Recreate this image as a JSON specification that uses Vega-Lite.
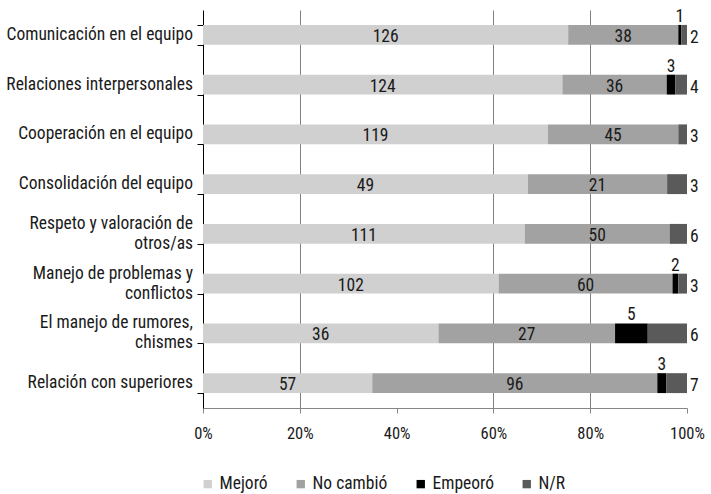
{
  "$schema": "https://vega.github.io/schema/vega-lite/v6.json",
  "width": 484,
  "height": 398,
  "autosize": {"type": "none"},
  "padding": {"left": 203, "top": 10, "right": 24, "bottom": 86},
  "config": {
    "font": "Roboto Condensed, Liberation Sans Narrow, Roboto, sans-serif",
    "view": {"stroke": null},
    "axisX": {
      "labelFontSize": 16.5, "labelPadding": 12, "tickSize": 5, "labelFlush": false,
      "domainColor": "#868686", "tickColor": "#868686", "labelColor": "#1a1a1a",
      "gridColor": "#7f7f7f"
    }
  },
  "data": {
    "values": [
      {"cat": "Comunicación en el equipo", "resp": "Mejoró", "ord": 1, "n": 126},
      {"cat": "Comunicación en el equipo", "resp": "No cambió", "ord": 2, "n": 38},
      {"cat": "Comunicación en el equipo", "resp": "Empeoró", "ord": 3, "n": 1},
      {"cat": "Comunicación en el equipo", "resp": "N/R", "ord": 4, "n": 2},
      {"cat": "Relaciones interpersonales", "resp": "Mejoró", "ord": 1, "n": 124},
      {"cat": "Relaciones interpersonales", "resp": "No cambió", "ord": 2, "n": 36},
      {"cat": "Relaciones interpersonales", "resp": "Empeoró", "ord": 3, "n": 3},
      {"cat": "Relaciones interpersonales", "resp": "N/R", "ord": 4, "n": 4},
      {"cat": "Cooperación en el equipo", "resp": "Mejoró", "ord": 1, "n": 119},
      {"cat": "Cooperación en el equipo", "resp": "No cambió", "ord": 2, "n": 45},
      {"cat": "Cooperación en el equipo", "resp": "Empeoró", "ord": 3, "n": 0},
      {"cat": "Cooperación en el equipo", "resp": "N/R", "ord": 4, "n": 3},
      {"cat": "Consolidación del equipo", "resp": "Mejoró", "ord": 1, "n": 49},
      {"cat": "Consolidación del equipo", "resp": "No cambió", "ord": 2, "n": 21},
      {"cat": "Consolidación del equipo", "resp": "Empeoró", "ord": 3, "n": 0},
      {"cat": "Consolidación del equipo", "resp": "N/R", "ord": 4, "n": 3},
      {"cat": "Respeto y valoración de \notros/as", "resp": "Mejoró", "ord": 1, "n": 111},
      {"cat": "Respeto y valoración de \notros/as", "resp": "No cambió", "ord": 2, "n": 50},
      {"cat": "Respeto y valoración de \notros/as", "resp": "Empeoró", "ord": 3, "n": 0},
      {"cat": "Respeto y valoración de \notros/as", "resp": "N/R", "ord": 4, "n": 6},
      {"cat": "Manejo de problemas y \nconflictos", "resp": "Mejoró", "ord": 1, "n": 102},
      {"cat": "Manejo de problemas y \nconflictos", "resp": "No cambió", "ord": 2, "n": 60},
      {"cat": "Manejo de problemas y \nconflictos", "resp": "Empeoró", "ord": 3, "n": 2},
      {"cat": "Manejo de problemas y \nconflictos", "resp": "N/R", "ord": 4, "n": 3},
      {"cat": "El manejo de rumores, \nchismes", "resp": "Mejoró", "ord": 1, "n": 36},
      {"cat": "El manejo de rumores, \nchismes", "resp": "No cambió", "ord": 2, "n": 27},
      {"cat": "El manejo de rumores, \nchismes", "resp": "Empeoró", "ord": 3, "n": 5},
      {"cat": "El manejo de rumores, \nchismes", "resp": "N/R", "ord": 4, "n": 6},
      {"cat": "Relación con superiores", "resp": "Mejoró", "ord": 1, "n": 57},
      {"cat": "Relación con superiores", "resp": "No cambió", "ord": 2, "n": 96},
      {"cat": "Relación con superiores", "resp": "Empeoró", "ord": 3, "n": 3},
      {"cat": "Relación con superiores", "resp": "N/R", "ord": 4, "n": 7}
    ]
  },
  "encoding": {
    "y": {
      "field": "cat", "type": "nominal", "sort": null,
      "scale": {"paddingInner": 0.6, "paddingOuter": 0.3},
      "axis": {
        "title": null, "tickBand": "extent", "labels": false,
        "tickSize": 6, "domainColor": "#000000", "tickColor": "#000000"
      }
    }
  },
  "layer": [
    {
      "mark": {"type": "bar"},
      "encoding": {
        "x": {
          "field": "n", "type": "quantitative", "stack": "normalize",
          "scale": {"domain": [0, 1], "nice": false},
          "axis": {
            "title": null, "format": "%", "values": [0, 0.2, 0.4, 0.6, 0.8, 1], "grid": true,
            "gridOpacity": {"condition": {"test": "datum.value < 0.1 || datum.value > 0.9 || (datum.value > 0.3 && datum.value < 0.5)", "value": 0}, "value": 1}
          }
        },
        "color": {
          "field": "resp", "type": "nominal",
          "scale": {"domain": ["Mejoró", "No cambió", "Empeoró", "N/R"], "range": ["#d0d0d0", "#a2a2a2", "#000000", "#5a5a5a"]},
          "legend": {
            "title": null, "orient": "none", "legendX": -4, "legendY": 465, "direction": "horizontal",
            "symbolType": "square", "symbolSize": 70, "symbolStrokeWidth": 0, "labelFontSize": 17.5,
            "labelColor": "#1a1a1a", "columnPadding": 24, "labelOffset": 3
          }
        },
        "order": {"field": "ord", "type": "quantitative"}
      }
    },
    {
      "transform": [
        {"filter": "datum.resp == 'Mejoró' && indexof(datum.cat, '\\n') < 0"}
      ],
      "mark": {"type": "text", "fontSize": 17.5, "color": "#1a1a1a", "baseline": "middle", "align": "right", "dx": -10},
      "encoding": {
        "x": {
          "datum": 0, "type": "quantitative",
          "axis": {
            "title": null, "format": "%", "values": [0, 0.2, 0.4, 0.6, 0.8, 1], "grid": true,
            "gridOpacity": {"condition": {"test": "datum.value < 0.1 || datum.value > 0.9 || (datum.value > 0.3 && datum.value < 0.5)", "value": 0}, "value": 1}
          }
        },
        "text": {"field": "cat", "type": "nominal"}
      }
    },
    {
      "transform": [
        {"filter": "datum.resp == 'Mejoró' && indexof(datum.cat, '\\n') >= 0"}
      ],
      "mark": {"type": "text", "fontSize": 17.5, "color": "#1a1a1a", "baseline": "middle", "align": "right", "dx": -10, "dy": -10, "lineBreak": "\n", "lineHeight": 20},
      "encoding": {
        "x": {
          "datum": 0, "type": "quantitative",
          "axis": {
            "title": null, "format": "%", "values": [0, 0.2, 0.4, 0.6, 0.8, 1], "grid": true,
            "gridOpacity": {"condition": {"test": "datum.value < 0.1 || datum.value > 0.9 || (datum.value > 0.3 && datum.value < 0.5)", "value": 0}, "value": 1}
          }
        },
        "text": {"field": "cat", "type": "nominal"}
      }
    },
    {
      "transform": [
        {"stack": "n", "groupby": ["cat"], "sort": [{"field": "ord"}], "offset": "normalize", "as": ["x0", "x1"]},
        {"calculate": "(datum.x0 + datum.x1) / 2", "as": "xm"},
        {"filter": "datum.resp == 'Mejoró' || datum.resp == 'No cambió'"}
      ],
      "mark": {"type": "text", "fontSize": 17.5, "color": "#1a1a1a", "baseline": "middle", "dy": 2},
      "encoding": {
        "x": {
          "field": "xm", "type": "quantitative",
          "axis": {
            "title": null, "format": "%", "values": [0, 0.2, 0.4, 0.6, 0.8, 1], "grid": true,
            "gridOpacity": {"condition": {"test": "datum.value < 0.1 || datum.value > 0.9 || (datum.value > 0.3 && datum.value < 0.5)", "value": 0}, "value": 1}
          }
        },
        "text": {"field": "n", "type": "quantitative"}
      }
    },
    {
      "transform": [
        {"stack": "n", "groupby": ["cat"], "sort": [{"field": "ord"}], "offset": "normalize", "as": ["x0", "x1"]},
        {"calculate": "(datum.x0 + datum.x1) / 2", "as": "xm"},
        {"filter": "datum.resp == 'Empeoró' && datum.n > 0"}
      ],
      "mark": {"type": "text", "fontSize": 17.5, "color": "#1a1a1a", "baseline": "alphabetic", "dy": -13},
      "encoding": {
        "x": {
          "field": "xm", "type": "quantitative",
          "axis": {
            "title": null, "format": "%", "values": [0, 0.2, 0.4, 0.6, 0.8, 1], "grid": true,
            "gridOpacity": {"condition": {"test": "datum.value < 0.1 || datum.value > 0.9 || (datum.value > 0.3 && datum.value < 0.5)", "value": 0}, "value": 1}
          }
        },
        "text": {"field": "n", "type": "quantitative"}
      }
    },
    {
      "transform": [
        {"stack": "n", "groupby": ["cat"], "sort": [{"field": "ord"}], "offset": "normalize", "as": ["x0", "x1"]},
        {"filter": "datum.resp == 'N/R'"}
      ],
      "mark": {"type": "text", "fontSize": 17.5, "color": "#1a1a1a", "baseline": "middle", "align": "left", "dx": 3, "dy": 3},
      "encoding": {
        "x": {
          "field": "x1", "type": "quantitative",
          "axis": {
            "title": null, "format": "%", "values": [0, 0.2, 0.4, 0.6, 0.8, 1], "grid": true,
            "gridOpacity": {"condition": {"test": "datum.value < 0.1 || datum.value > 0.9 || (datum.value > 0.3 && datum.value < 0.5)", "value": 0}, "value": 1}
          }
        },
        "text": {"field": "n", "type": "quantitative"}
      }
    }
  ]
}
